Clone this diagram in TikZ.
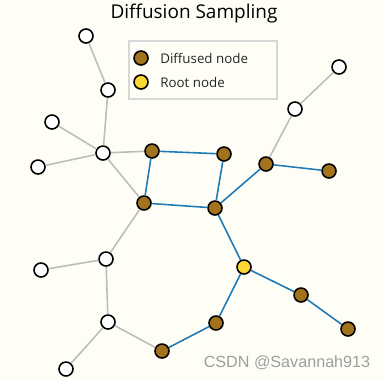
\documentclass[tikz,border=0pt]{standalone}
\usepackage{fontspec}
\setmainfont{Open Sans}
\newfontfamily\wmfont{Liberation Sans}
\usepackage{xcolor}
\usetikzlibrary{positioning}

\definecolor{bgcream}{HTML}{FFFEF6}
\definecolor{diffbrown}{HTML}{A2721C}
\definecolor{rootyellow}{HTML}{FDD835}
\definecolor{edgeblue}{HTML}{1F7BB8}
\definecolor{edgegray}{HTML}{BDBDBD}

\begin{document}
\begin{tikzpicture}[
    x=0.02cm, y=-0.02cm,
    vert/.style={circle, draw=black, line width=0.9pt, fill=white, minimum size=0.28cm, inner sep=0pt},
    diff/.style={vert, fill=diffbrown},
    root/.style={vert, fill=rootyellow},
    plain/.style={draw=edgegray, line width=0.9pt},
    spread/.style={draw=edgeblue, line width=0.9pt}
]
% Background
\fill[bgcream] (0,0) rectangle (384,379);
\useasboundingbox (0,0) rectangle (384,379);

% Title
\node[font=\fontsize{10.8}{12}\selectfont] (title) at (194,14) {Diffusion Sampling};

% Legend
\draw[edgegray!60, line width=0.8pt, fill=bgcream] (129,41) rectangle (277,99);
\node[diff] (legdiff) at (141,58) {};
\node[root] (legroot) at (141,82) {};
\node[right=3pt of legdiff, font=\fontsize{7.6}{9}\selectfont, text=black!85] (legdifftxt) {Diffused node};
\node[right=3pt of legroot, font=\fontsize{7.6}{9}\selectfont, text=black!85] (legroottxt) {Root node};

% Untouched nodes
\node[vert] (a1) at (86,36) {};
\node[vert] (a2) at (108,90) {};
\node[vert] (l1) at (52,122) {};
\node[vert] (hub) at (103,153) {};
\node[vert] (l2) at (38,167) {};
\node[vert] (w1) at (106,259) {};
\node[vert] (w2) at (41,270) {};
\node[vert] (w3) at (108,322) {};
\node[vert] (w4) at (66,369) {};
\node[vert] (u1) at (339,67) {};
\node[vert] (u2) at (295,109) {};

% Diffused nodes
\node[diff] (d1) at (152,151) {};
\node[diff] (d2) at (224,154) {};
\node[diff] (d3) at (144,203) {};
\node[diff] (d4) at (215,208) {};
\node[diff] (d5) at (266,164) {};
\node[diff] (d6) at (329,171) {};
\node[diff] (d7) at (301,295) {};
\node[diff] (d8) at (348,329) {};
\node[diff] (d9) at (216,323) {};
\node[diff] (d10) at (162,351) {};

% Root
\node[root] (rt) at (244,267) {};

% Plain edges
\path[plain] (a1) -- (a2);
\path[plain] (a2) -- (hub);
\path[plain] (l1) -- (hub);
\path[plain] (l2) -- (hub);
\path[plain] (hub) -- (d1);
\path[plain] (hub) -- (d3);
\path[plain] (d3) -- (w1);
\path[plain] (w1) -- (w2);
\path[plain] (w1) -- (w3);
\path[plain] (w3) -- (w4);
\path[plain] (w3) -- (d10);
\path[plain] (u1) -- (u2);
\path[plain] (u2) -- (d5);

% Spread edges
\path[spread] (d1) -- (d2);
\path[spread] (d1) -- (d3);
\path[spread] (d2) -- (d4);
\path[spread] (d3) -- (d4);
\path[spread] (d4) -- (d5);
\path[spread] (d5) -- (d6);
\path[spread] (d4) -- (rt);
\path[spread] (rt) -- (d7);
\path[spread] (d7) -- (d8);
\path[spread] (rt) -- (d9);
\path[spread] (d9) -- (d10);

% Watermark
\node[font=\wmfont\fontsize{9.2}{11}\selectfont, text=black!38] (mark) at (287,363) {CSDN @Savannah913};
\end{tikzpicture}
\end{document}
